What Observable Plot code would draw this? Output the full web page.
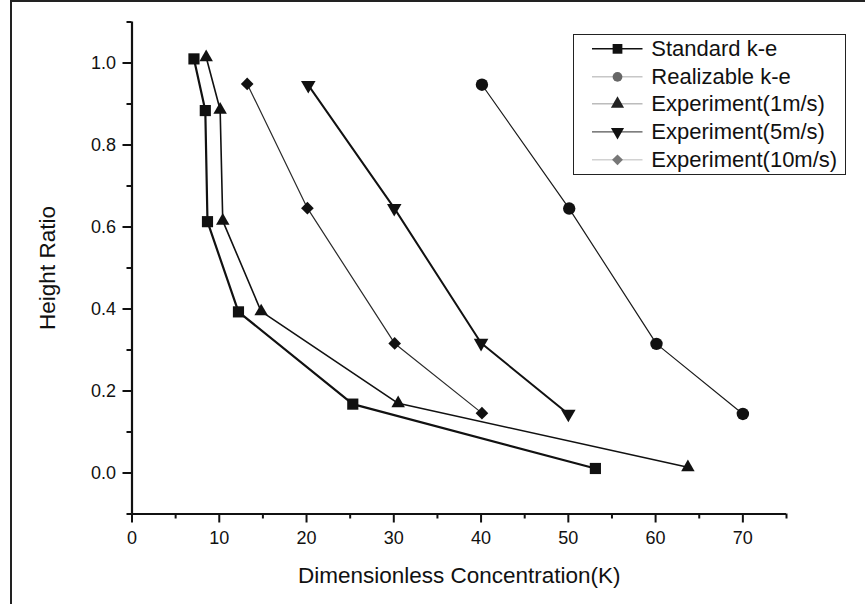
<!DOCTYPE html>
<html>
<head>
<meta charset="utf-8">
<script src="https://cdn.jsdelivr.net/npm/d3@7"></script>
<script src="https://cdn.jsdelivr.net/npm/@observablehq/plot@0.6"></script>
<style>
  body { margin: 0; background: #fff; font-family: "Liberation Sans", Arial, sans-serif; }
  #frame { position: relative; width: 853px; height: 602px; margin-left: 10px;
           border-left: 2px solid #222; border-top: 2px solid #222; background: #fff; overflow: hidden; }
  #chart { position: absolute; left: 0; top: 0; }
  #legend { position: absolute; left: 561.3px; top: 32px; width: 272.4px; height: 141px;
            box-sizing: border-box; border: 1.5px solid #222; background: #fff; }
  .row { position: absolute; left: 0; height: 27.7px; display: flex; align-items: center; }
  .row svg { flex: none; }
  .row span { font-size: 22px; color: #111; white-space: nowrap; }
</style>
</head>
<body>
<div id="frame">
  <div id="chart"></div>
  <div id="legend"></div>
</div>
<script>
// ---- data ----
const seriesNames = ["Standard k-e", "Realizable k-e", "Experiment(1m/s)", "Experiment(5m/s)", "Experiment(10m/s)"];

const standardX = [7.1, 8.4, 8.65, 12.2, 25.3, 53.1];
const standardY = [1.010, 0.884, 0.613, 0.393, 0.168, 0.011];

const realizableX = [40.1, 50.1, 60.1, 70.0];
const realizableY = [0.947, 0.645, 0.315, 0.144];

const exp1X = [8.5, 10.1, 10.4, 14.8, 30.5, 63.7];
const exp1Y = [1.014, 0.886, 0.615, 0.394, 0.170, 0.014];

const exp5X = [20.2, 30.05, 40.0, 50.0];
const exp5Y = [0.946, 0.646, 0.317, 0.144];

const exp10X = [13.2, 20.1, 30.1, 40.1];
const exp10Y = [0.949, 0.646, 0.316, 0.146];

const xTicks = [0, 10, 20, 30, 40, 50, 60, 70];
const xMinorTicks = [5, 15, 25, 35, 45, 55, 65, 75];
const yTicks = [0.0, 0.2, 0.4, 0.6, 0.8, 1.0];
const yMinorTicks = [-0.1, 0.1, 0.3, 0.5, 0.7, 0.9, 1.1];
const xTitle = "Dimensionless Concentration(K)";
const yTitle = "Height Ratio";

// ---- styles ----
const styles = [
  {symbol: "square",   r: 6.3, rotate: 0,   lineWidth: 2.2, line: "#111", fill: "#111",
   legendLine: "#111", legendLineWidth: 1.5, legendFill: "#111", legendSize: 95, legendSym: "square", legendRot: 0},
  {symbol: "circle",   r: 6.2, rotate: 0,   lineWidth: 1.2, line: "#1a1a1a", fill: "#111",
   legendLine: "#aaa", legendLineWidth: 1, legendFill: "#666", legendSize: 75, legendSym: "circle", legendRot: 0},
  {symbol: "triangle", r: 5.0, rotate: 0,   lineWidth: 1.6, line: "#111", fill: "#111",
   legendLine: "#999", legendLineWidth: 1, legendFill: "#222", legendSize: 75, legendSym: "triangle", legendRot: 0},
  {symbol: "triangle", r: 5.4, rotate: 180, lineWidth: 2.0, line: "#111", fill: "#111",
   legendLine: "#555", legendLineWidth: 1.3, legendFill: "#111", legendSize: 75, legendSym: "triangle", legendRot: 180},
  {symbol: "diamond2", r: 5.7, rotate: 0,   lineWidth: 1.2, line: "#2a2a2a", fill: "#111",
   legendLine: "#bbb", legendLineWidth: 1, legendFill: "#777", legendSize: 75, legendSym: "diamond2", legendRot: 0}
];

const seriesXs = [standardX, realizableX, exp1X, exp5X, exp10X];
const seriesYs = [standardY, realizableY, exp1Y, exp5Y, exp10Y];

const rows = seriesNames.flatMap((name, i) =>
  seriesXs[i].map((x, j) => ({series: name, x, y: seriesYs[i][j]})));

const ink = "#111";
const lineMarks = seriesNames.map((name, i) =>
  Plot.line(rows.filter(d => d.series === name), {
    x: "x", y: "y", stroke: styles[i].line, strokeWidth: styles[i].lineWidth, strokeLinejoin: "round"
  }));
const dotMarks = seriesNames.map((name, i) =>
  Plot.dot(rows.filter(d => d.series === name), {
    x: "x", y: "y", symbol: () => styles[i].symbol, r: styles[i].r, fill: styles[i].fill,
    stroke: "none", rotate: styles[i].rotate
  }));

const chart = Plot.plot({
  width: 853,
  height: 602,
  marginLeft: 119.5,
  marginRight: 79,
  marginTop: 19.5,
  marginBottom: 90.5,
  style: {fontFamily: '"Liberation Sans", Arial, sans-serif', color: ink, background: "#fff", overflow: "visible"},
  x: {domain: [0, 75], label: null},
  y: {domain: [-0.1, 1.1], label: null},
  symbol: {type: "identity"},
  marks: [
    Plot.axisX({ticks: xMinorTicks, tickSize: 5, tickFormat: () => "", strokeWidth: 2, stroke: ink, label: null}),
    Plot.axisX({ticks: xTicks, tickSize: 9, tickPadding: 8, strokeWidth: 2, stroke: ink, fill: ink,
                fontSize: 18, tickFormat: d3.format("d"), label: null}),
    Plot.axisY({ticks: yMinorTicks, tickSize: 5, tickFormat: () => "", strokeWidth: 2, stroke: ink, label: null}),
    Plot.axisY({ticks: yTicks, tickSize: 9, tickPadding: 7, strokeWidth: 2, stroke: ink, fill: ink,
                fontSize: 18, tickFormat: d3.format(".1f"), label: null}),
    Plot.text([xTitle], {text: d => d, frameAnchor: "bottom", lineAnchor: "bottom", dy: 68.5,
                         fontSize: 22.5, fill: ink}),
    Plot.text([yTitle], {text: d => d, frameAnchor: "left", textAnchor: "middle", lineAnchor: "middle",
                         rotate: -90, dx: -84.5, fontSize: 22.5, fill: ink}),
    Plot.ruleX([0], {stroke: ink, strokeWidth: 2.2}),
    Plot.ruleY([-0.1], {stroke: ink, strokeWidth: 2.2}),
    ...lineMarks,
    ...dotMarks
  ]
});
// make sure the axis ticks are drawn as heavy as in the reference
d3.select(chart).selectAll('g[aria-label$="tick"]').attr("stroke-width", 2).attr("stroke", ink)
  .selectAll("path").attr("stroke-width", 2);
document.getElementById("chart").appendChild(chart);

// ---- legend ----
const symbolTypes = {square: d3.symbolSquare, circle: d3.symbolCircle, triangle: d3.symbolTriangle,
                     diamond2: d3.symbolDiamond2 || d3.symbolSquare};
const legend = d3.select("#legend");
seriesNames.forEach((name, i) => {
  const s = styles[i];
  const row = legend.append("div").attr("class", "row").style("top", (i * 27.7) + "px");
  const svg = row.append("svg").attr("width", 77).attr("height", 27.7);
  svg.append("line").attr("x1", 18).attr("x2", 68.5).attr("y1", 13.85).attr("y2", 13.85)
     .attr("stroke", s.legendLine).attr("stroke-width", s.legendLineWidth);
  const rot = s.legendRot + (s.legendSym === "diamond2" && !d3.symbolDiamond2 ? 45 : 0);
  svg.append("path").attr("d", d3.symbol(symbolTypes[s.legendSym], s.legendSize)())
     .attr("transform", `translate(43.5,13.85) rotate(${rot})`).attr("fill", s.legendFill);
  row.append("span").text(name);
});
</script>
</body>
</html>
